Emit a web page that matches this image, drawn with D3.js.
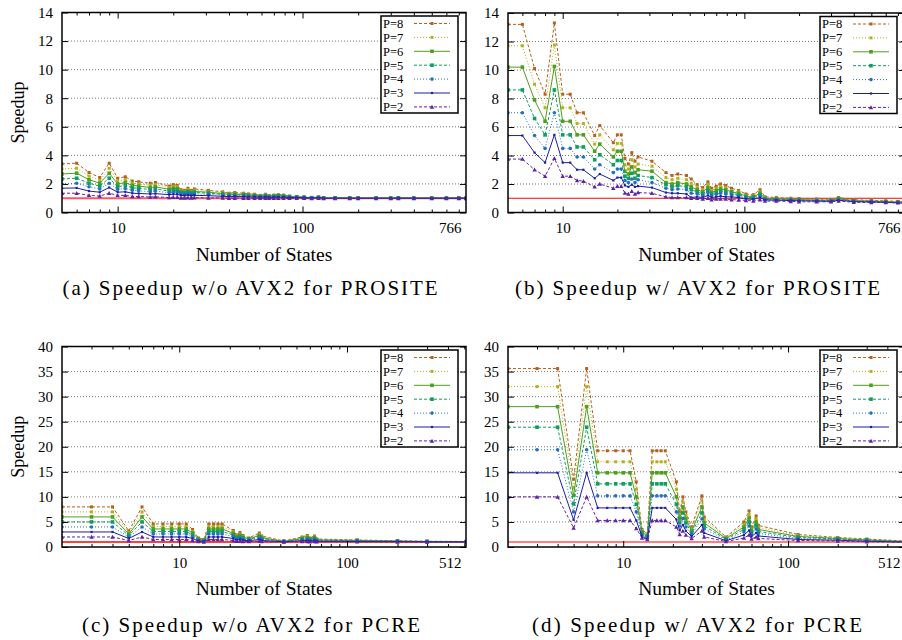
<!DOCTYPE html>
<html><head><meta charset="utf-8">
<script src="https://cdn.jsdelivr.net/npm/d3@7"></script>
<style>body{margin:0;background:#fff;} svg{display:block;} text{font-family:"Liberation Serif","Tinos","Times New Roman","Times","DejaVu Serif",serif;}</style>
</head><body>
<svg id="c" width="902" height="640"></svg>
<script>
// ---------- data ----------
const seriesNames = ["P=8","P=7","P=6","P=5","P=4","P=3","P=2"];
const prositeStates = [5,6,7,8,9,10,11,12,13,15,16,19,20,21,22,23,24,25,26,31,37,40,43,48,51,55,59,63,66,70,74,79,85,93,102,112,122,130,150,180,200,250,300,330,400,500,600,700,766];
const pcreStates = [2,3,4,5,6,7,8,9,10,11,12,13,14,15,16,17,18,21,22,23,24,26,30,31,42,54,58,60,64,66,115,200,300,512];

// (a) PROSITE without AVX2
const aP8 = [3.4,3.45,2.8,2.45,3.45,2.4,2.5,2.2,2.15,2.05,2.1,1.85,1.95,1.9,1.6,1.55,1.7,1.55,1.65,1.55,1.45,1.35,1.4,1.35,1.3,1.28,1.2,1.28,1.18,1.22,1.25,1.22,1.15,1.12,1.08,1.05,1.08,1.02,1.02,1.02,1.02,1.01,1.01,1.03,1.01,1.0,1.0,1.0,1.0];
const aP7 = [3.05,3.1,2.55,2.25,3.1,2.2,2.3,2.05,2.0,1.9,1.95,1.75,1.82,1.8,1.52,1.48,1.6,1.48,1.55,1.48,1.38,1.3,1.34,1.3,1.25,1.23,1.17,1.24,1.15,1.19,1.21,1.19,1.13,1.1,1.07,1.04,1.07,1.02,1.02,1.01,1.01,1.01,1.01,1.02,1.0,1.0,1.0,1.0,1.0];
const aP6 = [2.7,2.75,2.3,2.05,2.75,2.0,2.1,1.9,1.85,1.75,1.8,1.62,1.7,1.68,1.45,1.42,1.5,1.42,1.47,1.42,1.32,1.26,1.29,1.26,1.21,1.2,1.14,1.2,1.12,1.16,1.18,1.16,1.11,1.09,1.06,1.04,1.06,1.02,1.01,1.01,1.01,1.01,1.0,1.02,1.0,1.0,1.0,1.0,1.0];
const aP5 = [2.35,2.4,2.05,1.85,2.4,1.8,1.9,1.72,1.7,1.6,1.65,1.5,1.57,1.55,1.38,1.35,1.42,1.35,1.4,1.35,1.27,1.22,1.24,1.22,1.18,1.17,1.12,1.17,1.1,1.13,1.15,1.13,1.09,1.07,1.05,1.03,1.05,1.01,1.01,1.01,1.0,1.0,1.0,1.01,1.0,1.0,1.0,1.0,1.0];
const aP4 = [2.0,2.05,1.8,1.65,2.05,1.62,1.68,1.55,1.52,1.45,1.5,1.38,1.43,1.42,1.3,1.28,1.33,1.28,1.3,1.27,1.2,1.17,1.19,1.17,1.14,1.13,1.1,1.13,1.08,1.1,1.12,1.1,1.07,1.06,1.04,1.02,1.04,1.01,1.0,1.0,1.0,1.0,1.0,1.01,1.0,1.0,1.0,1.0,1.0];
const aP3 = [1.7,1.72,1.5,1.42,1.75,1.42,1.45,1.35,1.33,1.3,1.32,1.25,1.28,1.27,1.2,1.18,1.22,1.18,1.2,1.18,1.13,1.11,1.12,1.11,1.09,1.09,1.07,1.09,1.06,1.07,1.08,1.07,1.05,1.04,1.03,1.01,1.03,1.0,1.0,1.0,1.0,1.0,1.0,1.0,1.0,1.0,1.0,1.0,1.0];
const aP2 = [1.35,1.35,1.2,1.15,1.35,1.2,1.2,1.12,1.12,1.08,1.1,1.05,1.07,1.07,1.02,1.02,1.04,1.02,1.03,1.02,1.01,1.0,1.0,1.0,1.0,1.0,0.99,1.0,0.99,0.99,1.0,0.99,0.99,0.99,0.99,0.98,0.99,0.98,0.98,0.98,0.98,0.98,0.98,0.98,0.98,0.98,0.98,0.98,0.98];

// (b) PROSITE with AVX2
const bP8 = [13.2,13.2,10.1,8.3,13.3,8.3,8.3,7.0,7.0,5.4,6.1,4.9,5.45,5.45,3.8,3.4,4.2,3.6,3.9,3.6,2.8,2.6,2.7,2.6,2.35,1.95,1.75,2.15,1.7,1.85,2.0,1.9,1.7,1.55,1.3,1.25,1.6,1.1,1.05,1.0,0.98,0.95,0.92,1.05,0.9,0.85,0.82,0.78,0.75];
const bP7 = [11.7,11.7,9.0,7.35,11.75,7.35,7.35,6.25,6.25,4.8,5.45,4.4,4.85,4.85,3.35,3.05,3.7,3.2,3.4,3.25,2.45,2.3,2.4,2.3,2.05,1.8,1.6,1.95,1.55,1.7,1.8,1.75,1.55,1.45,1.2,1.15,1.45,1.02,1.0,0.95,0.93,0.9,0.88,1.0,0.86,0.82,0.8,0.75,0.72];
const bP6 = [10.2,10.2,7.9,6.4,10.25,6.4,6.4,5.45,5.45,4.3,4.8,3.9,4.3,4.3,2.9,2.7,3.2,2.8,3.0,2.9,2.1,2.0,2.1,2.0,1.8,1.6,1.45,1.75,1.4,1.55,1.65,1.6,1.45,1.35,1.15,1.1,1.35,0.98,0.96,0.92,0.9,0.87,0.85,0.97,0.83,0.8,0.77,0.73,0.7];
const bP5 = [8.6,8.6,6.6,5.45,8.6,5.45,5.45,4.6,4.6,3.7,4.05,3.35,3.65,3.65,2.55,2.4,2.75,2.4,2.6,2.45,1.95,1.8,1.9,1.8,1.6,1.45,1.3,1.55,1.3,1.4,1.5,1.45,1.35,1.25,1.08,1.05,1.25,0.95,0.93,0.9,0.88,0.85,0.83,0.94,0.8,0.78,0.75,0.72,0.68];
const bP4 = [7.0,7.0,5.4,4.5,7.0,4.5,4.5,3.9,3.9,3.05,3.35,2.8,3.05,3.05,2.25,2.1,2.35,2.1,2.3,2.1,1.7,1.6,1.65,1.6,1.35,1.3,1.2,1.4,1.2,1.28,1.35,1.3,1.25,1.15,1.02,1.0,1.15,0.92,0.9,0.88,0.86,0.83,0.8,0.9,0.78,0.76,0.73,0.7,0.66];
const bP3 = [5.4,5.4,4.2,3.5,5.45,3.5,3.5,3.0,3.0,2.4,2.7,2.25,2.45,2.45,1.9,1.8,1.95,1.8,1.85,1.75,1.4,1.35,1.35,1.3,1.05,1.1,1.05,1.2,1.05,1.1,1.15,1.1,1.1,1.05,0.95,0.92,1.05,0.88,0.86,0.84,0.82,0.8,0.78,0.86,0.76,0.74,0.71,0.68,0.64];
const bP2 = [3.75,3.75,3.0,2.55,3.8,2.55,2.55,2.25,2.2,1.8,2.0,1.7,1.85,1.85,1.37,1.3,1.5,1.3,1.4,1.35,1.1,1.05,1.05,1.05,1.0,1.0,0.95,1.0,0.9,0.95,0.95,0.95,0.9,0.88,0.85,0.8,0.9,0.8,0.8,0.78,0.75,0.75,0.75,0.8,0.72,0.7,0.7,0.68,0.62];

// (c) PCRE without AVX2
const cP8 = [8.0,8.0,8.0,3.2,8.0,4.6,4.6,4.6,4.6,4.6,3.5,1.8,1.5,4.6,4.6,4.6,4.6,3.3,2.4,2.9,2.3,1.8,2.8,2.2,1.2,2.0,2.3,1.8,2.2,1.6,1.4,1.25,1.15,1.1];
const cP7 = [7.0,7.0,7.0,2.9,7.0,4.1,4.1,4.1,4.1,4.1,3.1,1.7,1.4,4.1,4.1,4.1,4.1,3.0,2.2,2.6,2.1,1.7,2.5,2.0,1.15,1.85,2.1,1.7,2.0,1.5,1.35,1.2,1.12,1.08];
const cP6 = [6.0,6.0,6.0,2.6,6.0,3.6,3.6,3.6,3.6,3.6,2.8,1.6,1.3,3.6,3.6,3.6,3.6,2.7,2.0,2.35,1.9,1.6,2.3,1.85,1.12,1.7,1.9,1.6,1.85,1.4,1.3,1.18,1.1,1.06];
const cP5 = [5.0,5.0,5.0,2.3,5.0,3.1,3.1,3.1,3.1,3.1,2.4,1.45,1.25,3.1,3.1,3.1,3.1,2.4,1.8,2.1,1.75,1.5,2.05,1.7,1.1,1.55,1.7,1.5,1.7,1.35,1.25,1.15,1.08,1.05];
const cP4 = [4.0,4.0,4.0,2.0,4.0,2.6,2.6,2.6,2.6,2.6,2.1,1.35,1.2,2.6,2.6,2.6,2.6,2.1,1.6,1.8,1.55,1.4,1.8,1.5,1.07,1.4,1.5,1.35,1.5,1.25,1.2,1.12,1.06,1.03];
const cP3 = [3.0,3.0,3.0,1.7,3.0,2.0,2.0,2.0,2.0,2.0,1.7,1.2,1.1,2.0,2.0,2.0,2.0,1.7,1.4,1.5,1.35,1.25,1.5,1.3,1.04,1.25,1.3,1.2,1.3,1.15,1.1,1.08,1.04,1.02];
const cP2 = [2.0,2.0,2.0,1.3,2.0,1.5,1.5,1.5,1.5,1.5,1.3,1.1,1.0,1.5,1.5,1.5,1.5,1.3,1.15,1.2,1.1,1.1,1.2,1.1,1.0,1.1,1.1,1.05,1.1,1.05,1.03,1.02,1.01,1.0];

// (d) PCRE with AVX2
const dP8 = [35.6,35.6,35.6,13.5,35.6,19.2,19.2,19.2,19.2,19.2,13.0,3.5,2.6,19.2,19.2,19.2,19.2,13.0,7.0,10.0,7.0,4.0,10.2,6.0,2.0,5.0,7.2,4.0,6.2,4.3,2.5,1.9,1.6,1.2];
const dP7 = [32.0,32.0,32.0,11.8,32.0,17.0,17.0,17.0,17.0,17.0,11.5,3.2,2.4,17.0,17.0,17.0,17.0,11.5,6.3,9.0,6.3,3.6,9.2,5.4,1.85,4.5,6.5,3.6,5.6,3.9,2.3,1.8,1.5,1.15];
const dP6 = [28.0,28.0,28.0,10.3,28.0,14.8,14.8,14.8,14.8,14.8,10.0,3.0,2.2,14.8,14.8,14.8,14.8,10.0,5.6,8.0,5.6,3.2,8.0,4.8,1.7,4.0,5.8,3.2,5.0,3.5,2.1,1.7,1.4,1.1];
const dP5 = [23.9,23.9,23.9,8.6,23.9,12.6,12.6,12.6,12.6,12.6,8.5,2.7,2.0,12.6,12.6,12.6,12.6,8.5,4.9,6.8,4.8,2.8,6.8,4.2,1.55,3.5,5.0,2.9,4.3,3.1,1.9,1.6,1.35,1.05];
const dP4 = [19.4,19.4,19.4,7.0,19.4,10.2,10.2,10.2,10.2,10.2,7.0,2.4,1.8,10.2,10.2,10.2,10.2,7.0,4.2,5.7,4.0,2.5,5.6,3.6,1.4,3.0,4.2,2.6,3.6,2.7,1.7,1.5,1.25,1.0];
const dP3 = [14.8,14.8,14.8,5.4,14.8,7.8,7.8,7.8,7.8,7.8,5.3,2.1,1.6,7.8,7.8,7.8,7.8,5.5,3.3,4.4,3.2,2.1,4.4,2.8,1.25,2.4,3.3,2.1,2.8,2.2,1.5,1.35,1.15,0.98];
const dP2 = [10.0,10.0,10.0,3.8,10.0,5.3,5.3,5.3,5.3,5.3,3.7,1.8,1.5,5.3,5.3,5.3,5.3,4.0,2.5,3.2,2.4,1.7,3.2,2.0,1.1,1.8,2.4,1.6,2.0,1.7,1.3,1.2,1.05,0.95];

const prositeXTicks = [10, 100, 766];
const pcreXTicks = [10, 100, 512];
const ticksSmall = [0,2,4,6,8,10,12,14];
const ticksLarge = [0,5,10,15,20,25,30,35,40];
const captions = ["(a) Speedup w/o AVX2 for PROSITE","(b) Speedup w/ AVX2 for PROSITE","(c) Speedup w/o AVX2 for PCRE","(d) Speedup w/ AVX2 for PCRE"];
const baseline = 1;

// ---------- styles ----------
const styles = [
  {color:"#b5601e", dash:"3,2", marker:"square", size:3},
  {color:"#b3b01e", dash:"1,2", marker:"square", size:3},
  {color:"#4f9e1f", dash:null,  marker:"square", size:3.6},
  {color:"#0f9e5e", dash:"3,2", marker:"square", size:3.6},
  {color:"#2470c0", dash:"1,2", marker:"circle", size:1.8},
  {color:"#1a1fa3", dash:null,  marker:"dot",    size:2.2},
  {color:"#5e22a6", dash:"3,2", marker:"tri",    size:2.2}
];

const panels = [
  {x0:62, x1:466, yT:12.5, yB:212.5, states:prositeStates, xDom:[5,766], xTicks:prositeXTicks, yTicks:ticksSmall,
   series:[aP8,aP7,aP6,aP5,aP4,aP3,aP2], yTitle:true, cap:captions[0], capX:250, capY:295, capW:375, red:"#ff5566", redW:2},
  {x0:508, x1:905, yT:13, yB:212.5, states:prositeStates, xDom:[5,766], xTicks:prositeXTicks, yTicks:ticksSmall,
   series:[bP8,bP7,bP6,bP5,bP4,bP3,bP2], yTitle:false, cap:captions[1], capX:697.5, capY:295, capW:365, red:"#ff0000", redW:1.2},
  {x0:62, x1:466, yT:346.5, yB:547, states:pcreStates, xDom:[2,512], xTicks:pcreXTicks, yTicks:ticksLarge,
   series:[cP8,cP7,cP6,cP5,cP4,cP3,cP2], yTitle:true, cap:captions[2], capX:251, capY:632, capW:338, red:"#ff0000", redW:1.4},
  {x0:508, x1:905, yT:346.5, yB:547, states:pcreStates, xDom:[2,512], xTicks:pcreXTicks, yTicks:ticksLarge,
   series:[dP8,dP7,dP6,dP5,dP4,dP3,dP2], yTitle:false, cap:captions[3], capX:697, capY:632, capW:330, red:"#ff0000", redW:1.2}
];

const svg = d3.select("#c");

function drawMarker(g, st, cx, cy) {
  if (st.marker === "square" || st.marker === "dot") {
    g.append("rect").attr("x", cx - st.size/2).attr("y", cy - st.size/2)
      .attr("width", st.size).attr("height", st.size).attr("fill", st.color);
  } else if (st.marker === "circle") {
    g.append("circle").attr("cx", cx).attr("cy", cy).attr("r", st.size).attr("fill", st.color);
  } else {
    const s = st.size;
    g.append("path").attr("d", `M${cx},${cy - s}L${cx + s},${cy + s*0.8}L${cx - s},${cy + s*0.8}Z`).attr("fill", st.color);
  }
}

panels.forEach((p, pi) => {
  const x = d3.scaleLog().domain(p.xDom).range([p.x0, p.x1]);
  const y = d3.scaleLinear().domain([p.yTicks[0], p.yTicks[p.yTicks.length-1]]).range([p.yB, p.yT]);
  const g = svg.append("g");
  const clipId = "clip" + pi;
  svg.append("clipPath").attr("id", clipId).append("rect")
    .attr("x", p.x0).attr("y", p.yT).attr("width", p.x1 - p.x0).attr("height", p.yB - p.yT);

  // grid
  g.append("g").selectAll("line").data(p.yTicks.slice(1, -1)).join("line")
    .attr("x1", p.x0).attr("x2", p.x1).attr("y1", d => y(d)).attr("y2", d => y(d))
    .attr("stroke", "#777").attr("stroke-width", 1).attr("stroke-dasharray", "1,2");

  // baseline speedup = 1
  g.append("line").attr("x1", p.x0).attr("x2", p.x1).attr("y1", y(baseline)).attr("y2", y(baseline))
    .attr("stroke", p.red).attr("stroke-width", p.redW);

  // series
  const plot = g.append("g").attr("clip-path", `url(#${clipId})`);
  const line = d3.line().x(d => x(d[0])).y(d => y(d[1]));
  p.series.forEach((vals, si) => {
    const st = styles[si];
    const pts = p.states.map((s, i) => [s, vals[i]]);
    plot.append("path").datum(pts).attr("d", line).attr("fill", "none")
      .attr("stroke", st.color).attr("stroke-width", 1)
      .attr("stroke-dasharray", st.dash);
    const mg = plot.append("g");
    pts.forEach(d => drawMarker(mg, st, x(d[0]), y(d[1])));
  });

  // minor x ticks
  const minors = [];
  for (let dec = 1; dec <= 1000; dec *= 10)
    for (let k = 2; k <= 9; k++) { const v = k*dec; if (v > p.xDom[0] && v < p.xDom[1] && v !== 10 && v !== 100) minors.push(v); }

  const fmt = d => String(d);
  // bottom axis
  const xb = g.append("g").attr("transform", `translate(0,${p.yB})`)
    .call(d3.axisBottom(x).tickValues(p.xTicks).tickFormat(fmt).tickSizeInner(-6).tickSizeOuter(0).tickPadding(10));
  xb.select(".domain").remove();
  xb.attr("font-family", null).attr("font-size", null);
  xb.selectAll("text").attr("font-size", 15).attr("fill", "#000");
  xb.selectAll(".tick").filter(d => d === p.xDom[1]).select("text").attr("text-anchor", "end").attr("x", -5);
  xb.selectAll(".tick").filter(d => d === p.xDom[1]).select("line").remove();
  const xbm = g.append("g").attr("transform", `translate(0,${p.yB})`)
    .call(d3.axisBottom(x).tickValues(minors).tickFormat("").tickSizeInner(-3).tickSizeOuter(0));
  xbm.select(".domain").remove();
  // top axis
  const xt = g.append("g").attr("transform", `translate(0,${p.yT})`)
    .call(d3.axisTop(x).tickValues([10,100]).tickFormat("").tickSizeInner(-6).tickSizeOuter(0));
  xt.select(".domain").remove();
  const xtm = g.append("g").attr("transform", `translate(0,${p.yT})`)
    .call(d3.axisTop(x).tickValues(minors).tickFormat("").tickSizeInner(-3).tickSizeOuter(0));
  xtm.select(".domain").remove();

  // y axes
  const yl = g.append("g").attr("transform", `translate(${p.x0},0)`)
    .call(d3.axisLeft(y).tickValues(p.yTicks).tickFormat(fmt).tickSizeInner(-6).tickSizeOuter(0).tickPadding(9));
  yl.select(".domain").remove();
  yl.attr("font-family", null).attr("font-size", null);
  yl.selectAll("text").attr("font-size", 15).attr("fill", "#000");
  const yr = g.append("g").attr("transform", `translate(${p.x1},0)`)
    .call(d3.axisRight(y).tickValues(p.yTicks).tickFormat("").tickSizeInner(-6).tickSizeOuter(0));
  yr.select(".domain").remove();
  g.selectAll(".tick line").attr("stroke", "#000");

  // frame
  g.append("rect").attr("x", p.x0).attr("y", p.yT).attr("width", p.x1 - p.x0).attr("height", p.yB - p.yT)
    .attr("fill", "none").attr("stroke", "#000").attr("stroke-width", 1.5);

  // legend
  const lx = p.x1 - 85, ly = p.yT + 3.5;
  const lg = g.append("g");
  lg.append("rect").attr("x", lx).attr("y", ly).attr("width", 77).attr("height", 97)
    .attr("fill", "#fff").attr("stroke", "#000").attr("stroke-width", 1.5);
  seriesNames.forEach((name, si) => {
    const st = styles[si];
    const cy = ly + 7.5 + si * 13.9;
    lg.append("text").attr("x", lx + 2).attr("y", cy).attr("dy", "0.35em")
      .attr("font-size", 12.5).attr("fill", "#000").text(name);
    lg.append("line").attr("x1", lx + 33).attr("x2", lx + 69).attr("y1", cy).attr("y2", cy)
      .attr("stroke", st.color).attr("stroke-width", 1).attr("stroke-dasharray", st.dash);
    drawMarker(lg, st, lx + 51, cy);
  });

  // titles
  g.append("text").attr("x", (p.x0 + p.x1) / 2).attr("y", p.yB + 48)
    .attr("text-anchor", "middle").attr("font-size", 19.5).attr("fill", "#000")
    .text("Number of States");
  if (p.yTitle) {
    g.append("text").attr("transform", `translate(24,${(p.yT + p.yB) / 2}) rotate(-90)`)
      .attr("text-anchor", "middle").attr("font-size", 18).attr("fill", "#000")
      .text("Speedup");
  }
  g.append("text").attr("x", p.capX).attr("y", p.capY).attr("text-anchor", "middle")
    .attr("font-size", 21).attr("fill", "#000")
    .attr("textLength", p.capW).attr("lengthAdjust", "spacing").text(p.cap);
});
</script>
</body></html>
